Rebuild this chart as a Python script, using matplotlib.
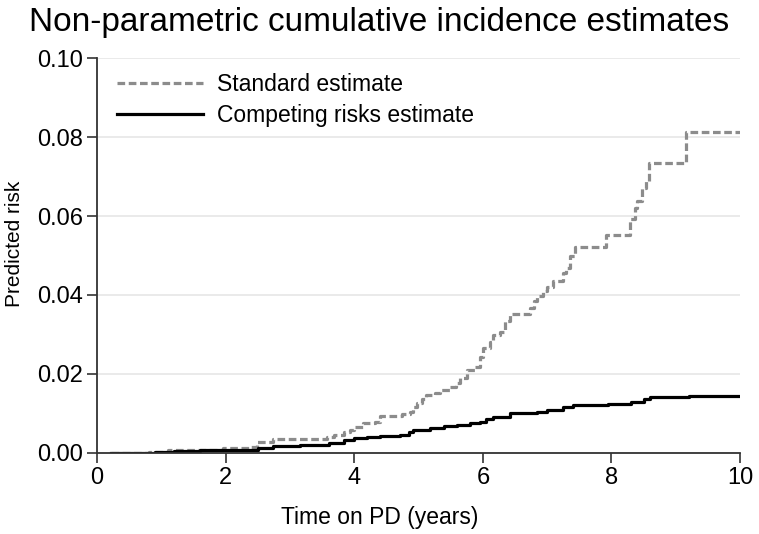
import matplotlib
matplotlib.use("Agg")
import matplotlib.pyplot as plt

plt.rcParams['font.family'] = ['Liberation Sans', 'DejaVu Sans']
plt.rcParams['lines.scale_dashes'] = False

# standard (1 - KM) estimate, step points (time, risk)
std_t = [0.22, 0.80, 1.10, 1.40, 1.96, 2.38, 2.48, 2.74, 3.16, 3.58, 3.68, 3.84,
         3.93, 4.00, 4.13, 4.32, 4.40, 4.74, 4.86, 4.92, 4.98, 5.05, 5.12, 5.25,
         5.33, 5.49, 5.58, 5.65, 5.75, 5.88, 5.96, 6.00, 6.11, 6.16, 6.27, 6.35,
         6.42, 6.73, 6.80, 6.84, 6.94, 7.00, 7.09, 7.25, 7.30, 7.36, 7.43, 7.92,
         8.29, 8.37, 8.40, 8.47, 8.53, 8.58, 9.16, 10.0]
std_r = [0.0, 0.0002, 0.0006, 0.0008, 0.0012, 0.0016, 0.0028, 0.0034, 0.0036,
         0.0039, 0.0046, 0.0054, 0.0058, 0.0066, 0.0076, 0.0079, 0.0093, 0.0098,
         0.0104, 0.0115, 0.0126, 0.0136, 0.0146, 0.0152, 0.0159, 0.0167, 0.0177,
         0.0189, 0.0209, 0.0217, 0.0242, 0.0265, 0.0280, 0.0298, 0.0305, 0.0335,
         0.0353, 0.0368, 0.0385, 0.0398, 0.0410, 0.0419, 0.0436, 0.0456, 0.0469,
         0.0499, 0.0522, 0.0552, 0.0593, 0.0620, 0.0638, 0.0671, 0.0689, 0.0734,
         0.0813, 0.0813]

# competing risks (cumulative incidence) estimate
cr_t = [0.22, 0.90, 1.20, 1.60, 2.00, 2.50, 2.74, 3.16, 3.60, 3.84, 4.00, 4.20,
        4.40, 4.71, 4.85, 4.91, 5.17, 5.40, 5.59, 5.80, 5.95, 6.05, 6.15, 6.42,
        6.84, 7.00, 7.25, 7.40, 7.95, 8.30, 8.50, 8.60, 9.20, 10.0]
cr_r = [0.0, 0.0002, 0.0004, 0.0006, 0.0008, 0.0012, 0.0017, 0.0021, 0.0024,
        0.0032, 0.0037, 0.0041, 0.0043, 0.0045, 0.0052, 0.0058, 0.0062, 0.0067,
        0.0071, 0.0075, 0.0079, 0.0085, 0.0092, 0.0100, 0.0104, 0.0108, 0.0115,
        0.0121, 0.0124, 0.0129, 0.0136, 0.0141, 0.0144, 0.0144]

xticks = [0, 2, 4, 6, 8, 10]
yticks = [0.00, 0.02, 0.04, 0.06, 0.08, 0.10]

fig = plt.figure(figsize=(7.59, 5.34), dpi=100)
ax = fig.add_axes([0.128, 0.152, 0.847, 0.739])

ax.step(std_t, std_r, where='post', color='#8c8c8c', lw=2.3, dashes=(5.5, 2.6),
        label='Standard estimate')
ax.step(cr_t, cr_r, where='post', color='black', lw=2.3,
        label='Competing risks estimate')

ax.set_xlim(0, 10)
ax.set_ylim(0, 0.10)
ax.set_xticks(xticks)
ax.set_xticklabels([str(v) for v in xticks])
ax.set_yticks(yticks)
ax.set_yticklabels(['%.2f' % v for v in yticks])
ax.yaxis.grid(True, color='#e6e6e6', lw=1.2)
ax.set_axisbelow(True)
for s in ['top', 'right']:
    ax.spines[s].set_visible(False)
for s in ['left', 'bottom']:
    ax.spines[s].set_color('#333333')
    ax.spines[s].set_linewidth(1.3)
ax.tick_params(direction='out', length=7, width=1.2, color='#333333',
               labelsize=17, pad=3)
ax.set_xlabel('Time on PD (years)', fontsize=16.5)
ax.xaxis.set_label_coords(0.44, -0.135)
ax.set_ylabel('Predicted risk', fontsize=15)
ax.yaxis.set_label_coords(-0.114, 0.53)

ax.legend(loc='upper left', frameon=False, fontsize=16.5, handlelength=3.75,
          handletextpad=0.6, borderaxespad=0.0, labelspacing=0.35,
          bbox_to_anchor=(0.017, 0.985))

fig.text(0.5, 0.958, 'Non-parametric cumulative incidence estimates',
         ha='center', va='center', fontsize=24)

fig.savefig('out.png', dpi=100)
